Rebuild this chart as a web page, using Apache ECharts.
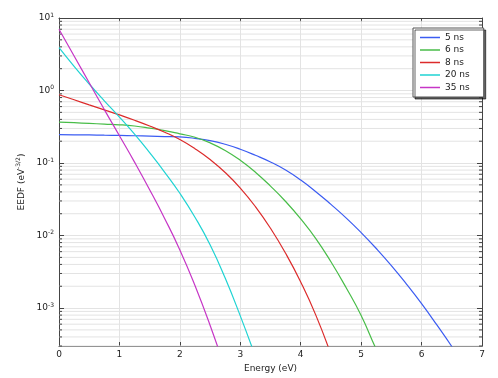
<!DOCTYPE html>
<html>
<head>
<meta charset="utf-8">
<script src="https://cdn.jsdelivr.net/npm/echarts@6/dist/echarts.min.js"></script>
<style>
  html, body { margin: 0; padding: 0; background: #fff; }
  #main { width: 498px; height: 378px; }
</style>
</head>
<body>
<div id="main"></div>
<script>
// energy grid (eV) shared by all curves
const energy = [0, 0.25, 0.5, 0.75, 1, 1.25, 1.5, 1.75, 2, 2.25, 2.5, 2.75, 3, 3.25, 3.5,
  3.75, 4, 4.25, 4.5, 4.75, 5, 5.25, 5.5, 5.75, 6, 6.25, 6.5, 6.75]

// EEDF values (eV^-3/2)
const eedf5 = [0.246, 0.245, 0.244, 0.242, 0.240, 0.238, 0.235, 0.232, 0.229, 0.219, 0.204, 0.1816,
  0.155, 0.128, 0.1035, 0.080, 0.0582, 0.0403, 0.0269, 0.01755, 0.011, 0.00663, 0.00385,
  0.00214, 0.00115, 0.00059, 0.000295, 0.00014]
const eedf6 = [0.367, 0.360, 0.352, 0.344, 0.337, 0.324, 0.303, 0.280, 0.253, 0.227, 0.190, 0.149,
  0.109, 0.0748, 0.048, 0.0295, 0.017, 0.0091, 0.00435, 0.00192, 0.00079, 0.00027, 0.0001]
const eedf8 = [0.873, 0.745, 0.635, 0.542, 0.461, 0.389, 0.324, 0.266, 0.211, 0.158, 0.112, 0.0741,
  0.0452, 0.0251, 0.0126, 0.00569, 0.00229, 0.0008, 0.00023]
const eedf20 = [3.91, 2.16, 1.23, 0.721, 0.43, 0.25, 0.139, 0.0746, 0.0383, 0.0179, 0.00746,
  0.00259, 0.00078, 0.000215]
const eedf35 = [6.98, 2.99, 1.28, 0.546, 0.238, 0.103, 0.0429, 0.0171, 0.00634, 0.00205, 0.00058,
  0.000145]

const seriesNames = ['5 ns', '6 ns', '8 ns', '20 ns', '35 ns']
const seriesValues = [eedf5, eedf6, eedf8, eedf20, eedf35]
const colors = ['#3b5cf2', '#48bd48', '#dc2b2b', '#1fd3d3', '#c636c6']

const yMin = 3e-4
const yMax = 10

// minor tick positions for the log axis (2..9 x each decade)
const minorValues = []
for (let d = -4; d <= 0; d++) {
  for (let m = 2; m <= 9; m++) {
    const v = m * Math.pow(10, d)
    if (v > yMin && v < yMax) minorValues.push(v)
  }
}

const frameColor = '#444'
const gridColor = '#e3e3e3'
const textColor = '#222'

function supLabel(value) {
  const exp = Math.round(Math.log10(value))
  return '10{e|' + exp + '}'
}

const chart = echarts.init(document.getElementById('main'))

const lineSeries = seriesNames.map((name, i) => ({
  name: name,
  type: 'line',
  smooth: 0.5,
  showSymbol: false,
  symbol: 'none',
  clip: true,
  z: 5,
  lineStyle: { color: colors[i], width: 1.2 },
  itemStyle: { color: colors[i] },
  data: seriesValues[i].map((v, j) => [energy[j], v])
}))

// minor grid lines and minor ticks on both sides, placed through the axis scale
const minorSeries = {
  type: 'custom',
  silent: true,
  z: 1,
  data: minorValues.map(v => [v]),
  encode: { y: 0 },
  renderItem: function (params, api) {
    const v = api.value(0)
    const a = api.coord([0, v])
    const b = api.coord([7, v])
    return {
      type: 'group',
      children: [
        { type: 'line', shape: { x1: a[0], y1: a[1], x2: b[0], y2: b[1] },
          style: { stroke: gridColor, lineWidth: 1 } },
        { type: 'line', shape: { x1: a[0], y1: a[1], x2: a[0] + 3, y2: a[1] },
          style: { stroke: frameColor, lineWidth: 1 }, z2: 10 },
        { type: 'line', shape: { x1: b[0] - 3, y1: b[1], x2: b[0], y2: b[1] },
          style: { stroke: frameColor, lineWidth: 1 }, z2: 10 }
      ]
    }
  }
}

const option = {
  animation: false,
  backgroundColor: '#fff',
  textStyle: { fontFamily: 'DejaVu Sans' },
  grid: { left: 59, right: 16, top: 18, bottom: 32 },
  legend: {
    data: seriesNames,
    orient: 'vertical',
    left: 413,
    top: 28,
    padding: [4, 14, 4, 7],
    itemWidth: 20,
    itemHeight: 1.5,
    itemGap: 1.5,
    icon: 'rect',
    backgroundColor: '#fff',
    borderColor: '#555',
    borderWidth: 1,
    borderRadius: 0,
    shadowColor: 'rgba(0,0,0,0.6)',
    shadowBlur: 0,
    shadowOffsetX: 2,
    shadowOffsetY: 2,
    textStyle: { fontSize: 9, color: textColor, lineHeight: 11 }
  },
  xAxis: [
    {
      type: 'value',
      min: 0,
      max: 7,
      interval: 1,
      name: 'Energy (eV)',
      nameLocation: 'middle',
      nameGap: 11,
      nameTextStyle: { fontSize: 9, color: textColor },
      axisLine: { show: true, onZero: false, lineStyle: { color: frameColor, width: 1 } },
      axisTick: { inside: true, length: 4, lineStyle: { color: frameColor } },
      axisLabel: { fontSize: 9, color: textColor, margin: 4 },
      splitLine: { show: true, lineStyle: { color: gridColor, width: 1 } }
    },
    {
      type: 'value',
      position: 'top',
      min: 0,
      max: 7,
      interval: 1,
      axisLine: { show: true, onZero: false, lineStyle: { color: frameColor, width: 1 } },
      axisTick: { inside: true, length: 4, lineStyle: { color: frameColor } },
      axisLabel: { show: false },
      splitLine: { show: false }
    }
  ],
  yAxis: [
    {
      type: 'log',
      logBase: 10,
      min: yMin,
      max: yMax,
      name: 'EEDF (eV{s|-3/2})',
      nameLocation: 'middle',
      nameGap: 25,
      nameRotate: 90,
      nameTextStyle: {
        fontSize: 9,
        color: textColor,
        rich: { s: { fontSize: 6, padding: [0, 0, 5, 0], color: textColor } }
      },
      axisLine: { show: true, onZero: false, lineStyle: { color: frameColor, width: 1 } },
      axisTick: { inside: true, length: 5, lineStyle: { color: frameColor } },
      axisLabel: {
        fontSize: 9,
        color: textColor,
        margin: 5,
        showMinLabel: false,
        formatter: supLabel,
        rich: { e: { fontSize: 6, padding: [0, 0, 6, 0], color: textColor } }
      },
      splitLine: { show: true, lineStyle: { color: gridColor, width: 1 } }
    },
    {
      type: 'log',
      logBase: 10,
      min: yMin,
      max: yMax,
      position: 'right',
      axisLine: { show: true, onZero: false, lineStyle: { color: frameColor, width: 1 } },
      axisTick: { inside: true, length: 5, lineStyle: { color: frameColor } },
      axisLabel: { show: false },
      splitLine: { show: false }
    }
  ],
  series: [minorSeries].concat(lineSeries)
}

option && chart.setOption(option)
</script>
</body>
</html>
